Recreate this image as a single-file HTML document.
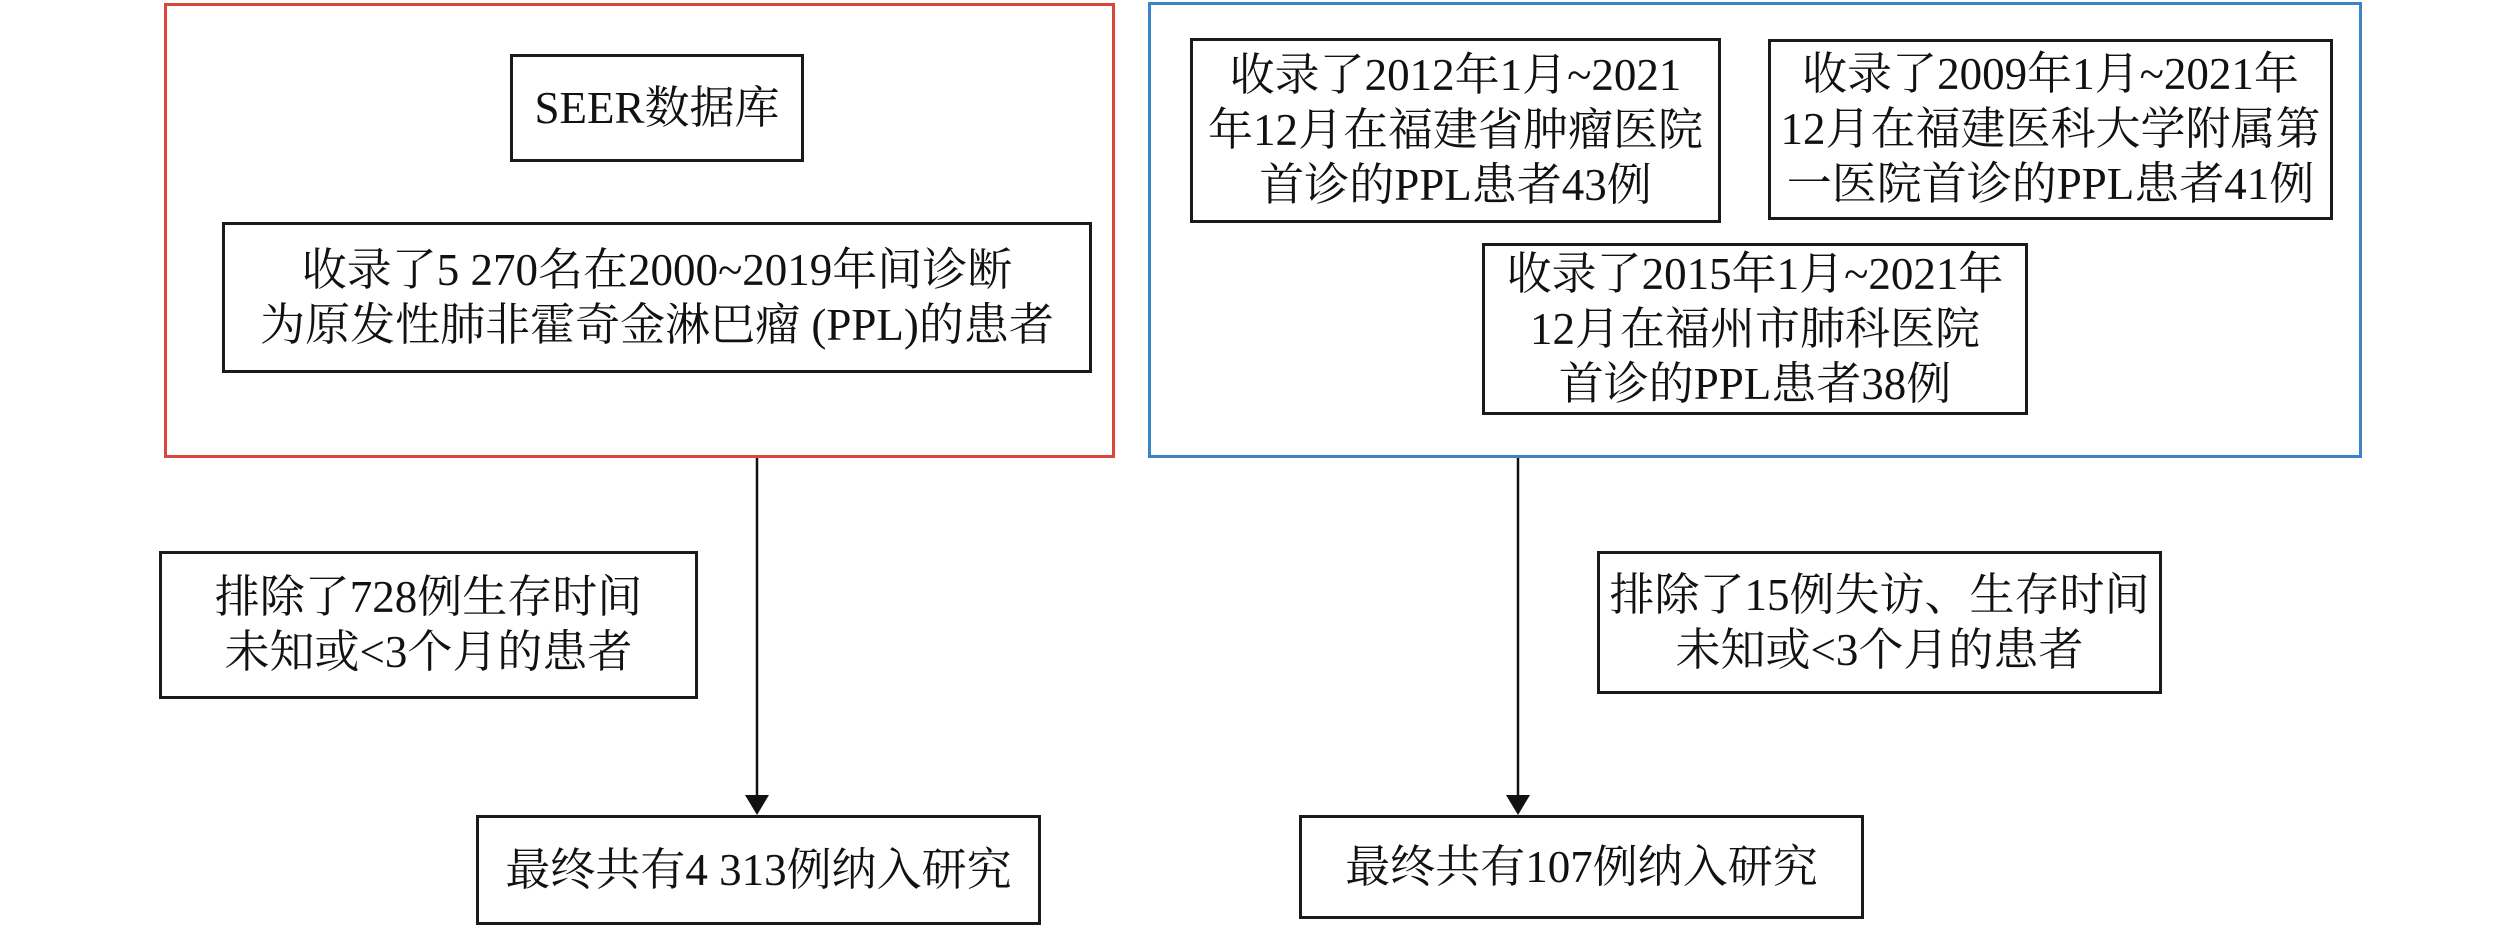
<!DOCTYPE html>
<html><head><meta charset="utf-8"><style>
html,body{margin:0;padding:0;background:#fff}
body{width:2520px;height:928px;position:relative;overflow:hidden;font-family:"Liberation Serif","Noto Serif CJK SC",serif;color:#111}
.b{position:absolute;box-sizing:border-box;border:3px solid #1a1a1a;display:flex;align-items:center;justify-content:center;text-align:center;font-size:45px;line-height:55px;white-space:nowrap}
.g{position:absolute;box-sizing:border-box;border:3px solid}
</style></head><body>
<div class="g" style="left:164px;top:3px;width:951px;height:455px;border-color:#d9463a"></div>
<div class="g" style="left:1148px;top:2px;width:1214px;height:456px;border-color:#3a84c8"></div>

<div class="b" style="left:510px;top:54px;width:294px;height:108px">SEER数据库</div>
<div class="b" style="left:222px;top:222px;width:870px;height:151px">收录了5 270名在2000~2019年间诊断<br>为原发性肺非霍奇金淋巴瘤 (PPL)的患者</div>
<div class="b" style="left:159px;top:551px;width:539px;height:148px">排除了728例生存时间<br>未知或&lt;3个月的患者</div>
<div class="b" style="left:476px;top:815px;width:565px;height:110px">最终共有4 313例纳入研究</div>

<div class="b" style="left:1190px;top:38px;width:531px;height:185px">收录了2012年1月~2021<br>年12月在福建省肿瘤医院<br>首诊的PPL患者43例</div>
<div class="b" style="left:1768px;top:39px;width:565px;height:181px">收录了2009年1月~2021年<br>12月在福建医科大学附属第<br>一医院首诊的PPL患者41例</div>
<div class="b" style="left:1482px;top:243px;width:546px;height:172px">收录了2015年1月~2021年<br>12月在福州市肺科医院<br>首诊的PPL患者38例</div>
<div class="b" style="left:1597px;top:551px;width:565px;height:143px">排除了15例失访、生存时间<br>未知或&lt;3个月的患者</div>
<div class="b" style="left:1299px;top:815px;width:565px;height:104px">最终共有107例纳入研究</div>

<svg width="2520" height="928" style="position:absolute;left:0;top:0">
<line x1="757" y1="458" x2="757" y2="796" stroke="#111" stroke-width="2.5"/>
<polygon points="745,795 769,795 757,815" fill="#111"/>
<line x1="1518" y1="458" x2="1518" y2="796" stroke="#111" stroke-width="2.5"/>
<polygon points="1506,795 1530,795 1518,815" fill="#111"/>
</svg>
</body></html>
